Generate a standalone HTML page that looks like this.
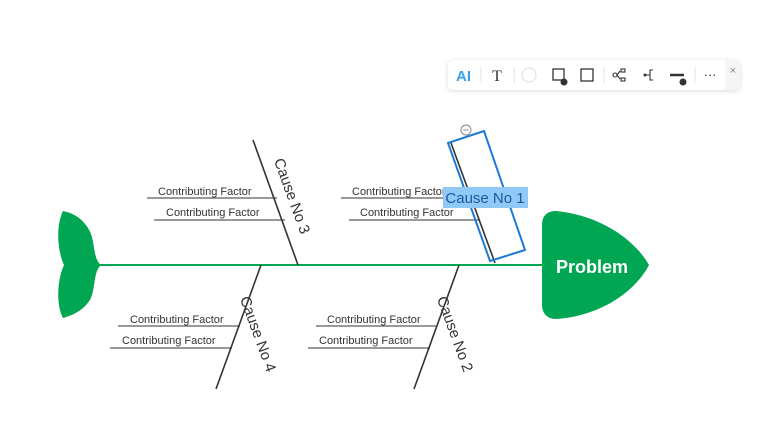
<!DOCTYPE html>
<html><head><meta charset="utf-8"><style>
body{margin:0;width:766px;height:434px;background:#fff;overflow:hidden;font-family:"Liberation Sans",sans-serif}
</style></head><body>
<svg width="766" height="434" viewBox="0 0 766 434" xmlns="http://www.w3.org/2000/svg" font-family="Liberation Sans, sans-serif">
<defs><filter id="sh" x="-10%" y="-30%" width="120%" height="160%"><feDropShadow dx="0" dy="1" stdDeviation="2.5" flood-color="#000" flood-opacity="0.15"/></filter></defs>
<path d="M101,265 C92,258 96,240 88,228 C80,215 68,212 63,211 C56,225 57,250 64,265 C57,280 56,305 63,318 C70,316 82,312 90,300 C96,288 93,272 101,265 Z" fill="#00a651"/>
<line x1="98" y1="265" x2="548" y2="265" stroke="#00a651" stroke-width="2"/>
<path d="M556,211 C600,215 635,240 649,265 C635,292 600,316 556,319 C547,319 542,313 542,305 L542,225 C542,216 547,211 556,211 Z" fill="#00a651"/>
<text x="592" y="273" font-size="18" font-weight="bold" fill="#fff" text-anchor="middle">Problem</text>
<g stroke="#333" stroke-width="1.6">
<line x1="253" y1="140" x2="298" y2="265"/>
<line x1="261" y1="265" x2="216" y2="389"/>
<line x1="459" y1="265" x2="414" y2="389"/>
<line x1="451" y1="143" x2="495" y2="263"/>
</g>
<g stroke="#333" stroke-width="1">
<line x1="147" y1="198" x2="277" y2="198"/><line x1="154" y1="220" x2="285" y2="220"/>
<line x1="341" y1="198" x2="472" y2="198"/><line x1="349" y1="220" x2="480" y2="220"/>
<line x1="118" y1="326" x2="240" y2="326"/><line x1="110" y1="348" x2="232" y2="348"/>
<line x1="316" y1="326" x2="437" y2="326"/><line x1="308" y1="348" x2="430" y2="348"/>
</g>
<g font-size="11" fill="#333">
<text x="158" y="195">Contributing Factor</text><text x="166" y="216">Contributing Factor</text>
<text x="352" y="195">Contributing Factor</text><text x="360" y="216">Contributing Factor</text>
<text x="130" y="323">Contributing Factor</text><text x="122" y="344">Contributing Factor</text>
<text x="327" y="323">Contributing Factor</text><text x="319" y="344">Contributing Factor</text>
</g>
<g font-size="15" fill="#333" text-anchor="middle">
<text transform="translate(292,196) rotate(70)" y="5">Cause No 3</text>
<text transform="translate(258,334) rotate(70)" y="5">Cause No 4</text>
<text transform="translate(455,334) rotate(70)" y="5">Cause No 2</text>
</g>
<polygon points="448,143 484,131 525,250 490,261" fill="none" stroke="#1e7ad6" stroke-width="2"/>
<circle cx="466" cy="130" r="5" fill="#fff" stroke="#888" stroke-width="1"/>
<line x1="463.5" y1="130" x2="468.5" y2="130" stroke="#888" stroke-width="1"/>
<rect x="443" y="187" width="85" height="21" fill="#90c8f8"/>
<text x="485" y="203" font-size="15" fill="#1a5a9a" text-anchor="middle">Cause No 1</text>
<rect x="448" y="60" width="292" height="30" rx="5" fill="#fff" filter="url(#sh)"/>
<rect x="725" y="60" width="15" height="30" fill="#f5f5f5"/>
<text x="456" y="81" font-size="15" font-weight="bold" fill="#3aa0e8">AI</text>
<line x1="481" y1="67" x2="481" y2="83" stroke="#e3e3e3"/>
<text x="497" y="81" font-size="16" fill="#333" text-anchor="middle" font-family="Liberation Serif, serif">T</text>
<line x1="514" y1="67" x2="514" y2="83" stroke="#e3e3e3"/>
<circle cx="529" cy="75" r="7" fill="none" stroke="#ddd"/>
<rect x="553" y="69" width="11" height="11" fill="none" stroke="#333" stroke-width="1.3"/>
<circle cx="564" cy="82" r="3.5" fill="#333"/>
<rect x="581" y="69" width="12" height="12" fill="none" stroke="#333" stroke-width="1.3"/>
<line x1="604" y1="67" x2="604" y2="83" stroke="#e3e3e3"/>
<g stroke="#333" stroke-width="1.1" fill="none"><circle cx="615" cy="75" r="2"/><rect x="621" y="69" width="4" height="3"/><rect x="621" y="78" width="4" height="3"/><path d="M617,75 L620,71 M617,75 L620,79"/>
<path d="M645,75 L650,75 M653,70 L650,70 L650,80 L653,80"/></g>
<circle cx="645" cy="75" r="1.5" fill="#333"/>
<line x1="670" y1="75" x2="684" y2="75" stroke="#333" stroke-width="2.5"/>
<circle cx="683" cy="82" r="3.5" fill="#333"/>
<line x1="695" y1="67" x2="695" y2="83" stroke="#e3e3e3"/>
<text x="710" y="79" font-size="13" fill="#333" text-anchor="middle">···</text>
<text x="733" y="74" font-size="11" fill="#888" text-anchor="middle">×</text>
</svg>
</body></html>
